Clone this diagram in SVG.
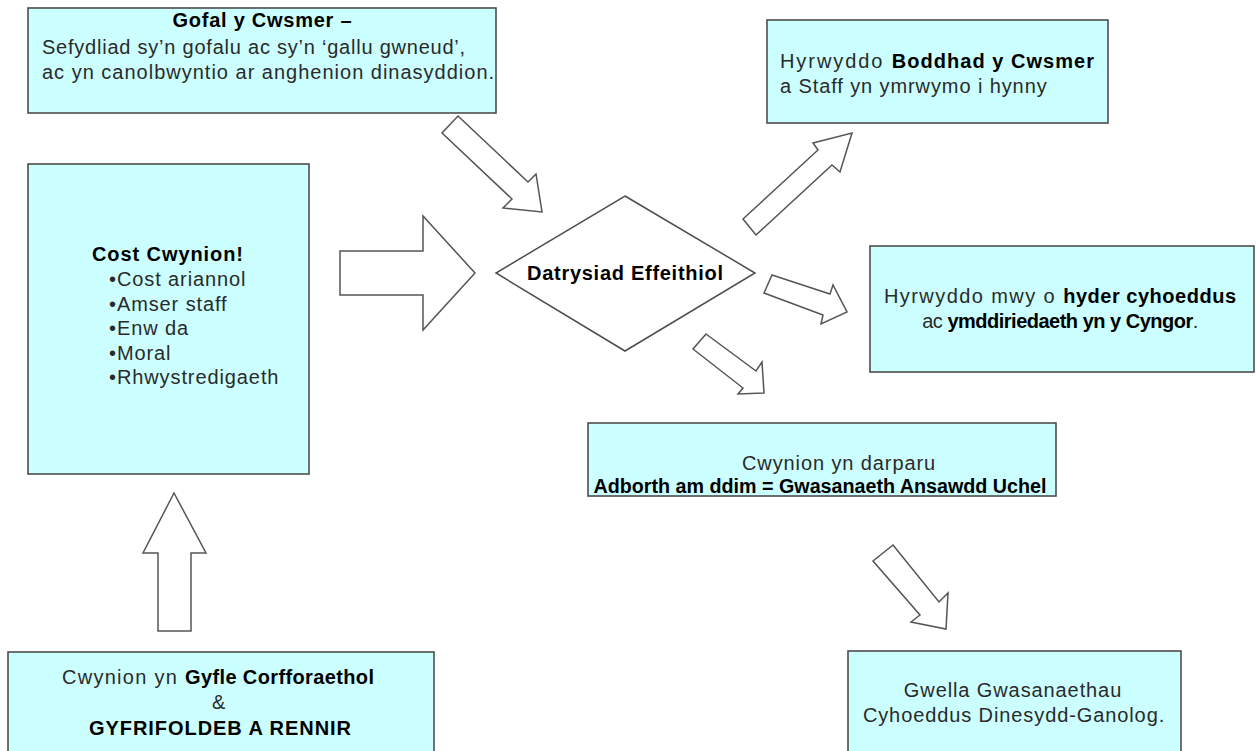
<svg xmlns="http://www.w3.org/2000/svg" width="1256" height="751" viewBox="0 0 1256 751">
<style>
.box{fill:#ccffff;stroke:#4d4d4d;stroke-width:1.6}
.dia{fill:#ffffff;stroke:#4d4d4d;stroke-width:1.5}
.arr{fill:#ffffff;stroke:#555555;stroke-width:1.5;stroke-linejoin:miter}
text{font-family:"Liberation Sans",Arial,sans-serif;font-size:20px;fill:#1a1a1a}
.r{letter-spacing:0.9px;fill:#2a2a2a}
.b{font-weight:bold;fill:#000}
.t{letter-spacing:-0.5px}
.m{text-anchor:middle}
</style>
<rect width="1256" height="751" fill="#ffffff"/>
<g id="connectors">
<polygon class="arr" points="458,116 528,182 536,174 542,212 503,208 512,199 442,133"/>
<polygon class="arr" points="340,251 423,251 423,216 475,273 423,330 423,295 340,295"/>
<polygon class="arr" points="743,219 818,150 813,143 852,133 840,172 832,165 756,235"/>
<polygon class="arr" points="772,275 830,294 833,285 847,312 821,324 823,315 764,293"/>
<polygon class="arr" points="706,334 756,371 762,362 764,393 738,394 743,388 693,349"/>
<polygon class="arr" points="893,545 939,602 948,593 946,629 911,622 920,615 873,561"/>
<polygon class="arr" points="174,493 206,553 191,553 191,631 158,631 158,553 143,553"/>
</g>
<g id="gofal">
<rect class="box" x="28" y="8" width="468" height="105"/>
<text class="b m" x="262" y="27" textLength="179" lengthAdjust="spacing">Gofal y Cwsmer –</text>
<text class="r" x="42" y="54" textLength="424" lengthAdjust="spacing">Sefydliad sy’n gofalu ac sy’n ‘gallu gwneud’,</text>
<text class="r" x="42" y="79" textLength="453" lengthAdjust="spacing">ac yn canolbwyntio ar anghenion dinasyddion.</text>
</g>
<g id="boddhad">
<rect class="box" x="767" y="20" width="341" height="103"/>
<text x="780" y="68" textLength="314" lengthAdjust="spacing"><tspan class="r">Hyrwyddo </tspan><tspan class="b">Boddhad y Cwsmer</tspan></text>
<text class="r" x="780" y="93">a Staff yn ymrwymo i hynny</text>
</g>
<g id="cost">
<rect class="box" x="28" y="164" width="281" height="310"/>
<text class="b" x="92" y="261" textLength="151" lengthAdjust="spacing">Cost Cwynion!</text>
<text class="r" x="109" y="286">•Cost ariannol</text>
<text class="r" x="109" y="310.5">•Amser staff</text>
<text class="r" x="109" y="335">•Enw da</text>
<text class="r" x="109" y="359.5">•Moral</text>
<text class="r" x="109" y="384">•Rhwystredigaeth</text>
</g>
<g id="datrysiad">
<polygon class="dia" points="625,196 755,273 625,351 496,273"/>
<text class="b m" x="625" y="280" textLength="196" lengthAdjust="spacing">Datrysiad Effeithiol</text>
</g>
<g id="hyder">
<rect class="box" x="870" y="246" width="384" height="126"/>
<text class="m" x="1060" y="303" textLength="352" lengthAdjust="spacing"><tspan class="r">Hyrwyddo mwy o </tspan><tspan class="b">hyder cyhoeddus</tspan></text>
<text class="m t" x="1060" y="328"><tspan fill="#2a2a2a">ac </tspan><tspan class="b">ymddiriedaeth yn y Cyngor</tspan><tspan fill="#2a2a2a">.</tspan></text>
</g>
<g id="darparu">
<rect class="box" x="588" y="423" width="468" height="73"/>
<text class="r m" x="839" y="470">Cwynion yn darparu</text>
<text class="b m" x="820" y="493" textLength="453" lengthAdjust="spacingAndGlyphs">Adborth am ddim = Gwasanaeth Ansawdd Uchel</text>
</g>
<g id="gwella">
<rect class="box" x="848" y="651" width="333" height="110"/>
<text class="r m" x="1013" y="697">Gwella Gwasanaethau</text>
<text class="r m" x="1014" y="722">Cyhoeddus Dinesydd-Ganolog.</text>
</g>
<g id="cyfle">
<rect class="box" x="8" y="652" width="426" height="110"/>
<text class="m" x="218" y="684" textLength="312" lengthAdjust="spacing"><tspan class="r">Cwynion yn </tspan><tspan class="b">Gyfle Corfforaethol</tspan></text>
<text class="r m" x="219" y="709">&amp;</text>
<text class="b m" x="220" y="735" textLength="262" lengthAdjust="spacing">GYFRIFOLDEB A RENNIR</text>
</g>
</svg>
